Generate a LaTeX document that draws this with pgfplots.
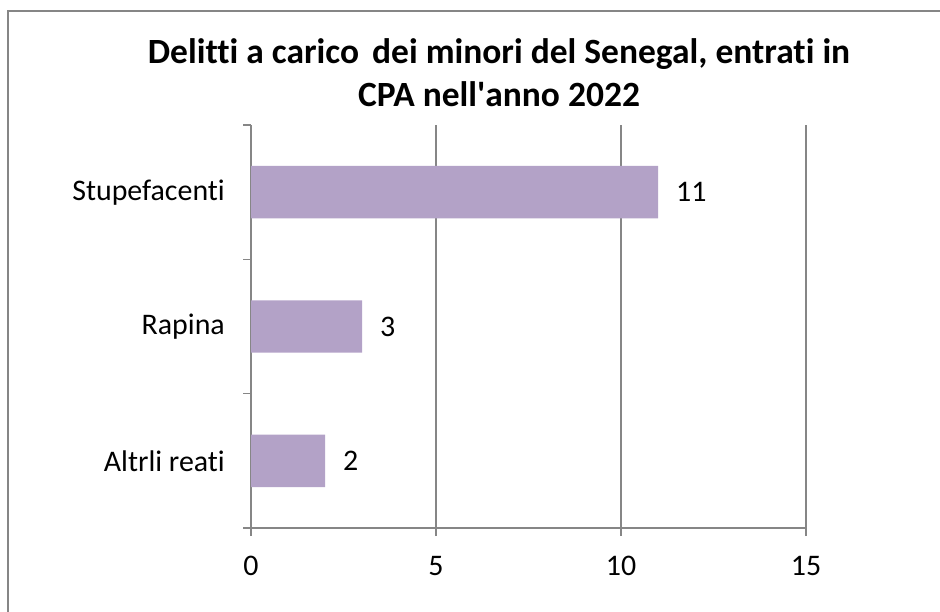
\documentclass[border=0pt]{standalone}
\usepackage{fontspec}
\setmainfont{Carlito}[Ligatures=CommonOff]
\usepackage{pgfplots}
\pgfplotsset{compat=1.18}
\definecolor{barc}{RGB}{179,162,199}
\definecolor{gridc}{RGB}{134,134,134}
\begin{document}
\begin{tikzpicture}
\useasboundingbox (0bp,0bp) rectangle (940bp,612bp);
\draw[gridc, line width=1.8bp] (8bp,0bp) -- (8bp,601bp) -- (940bp,601bp);
\node[font=\fontsize{35.6}{43}\selectfont\bfseries, align=center] at (499bp,539bp) {Delitti a carico\hspace{5bp} dei minori del Senegal, entrati in\\CPA nell\textquotesingle anno 2022};
\begin{axis}[
  at={(251bp,84bp)}, anchor=south west,
  xbar, scale only axis, width=555bp, height=403bp,
  xmin=0, xmax=15, ymin=-0.5, ymax=2.5,
  axis lines=left,
  axis line style={-, gridc, line width=1.5bp},
  xtick={0,5,10,15},
  ytick={0,1,2},
  yticklabels={Altrli reati, Rapina, Stupefacenti},
  minor ytick={-0.5,0.5,1.5,2.5},
  xmajorgrids,
  grid style={gridc, line width=1.5bp},
  tick align=outside,
  major tick length=8bp,
  minor tick length=8bp,
  xtick style={gridc, line width=1.5bp},
  major y tick style={draw=none},
  minor y tick style={gridc, line width=1.5bp},
  tick label style={font=\fontsize{30}{30}\selectfont, text=black},
  yticklabel style={inner sep=0pt, xshift=-18bp},
  xticklabel style={inner sep=0pt, yshift=-20bp},
  /pgf/number format/assume math mode=true,
  clip=false,
]
\addplot[fill=barc, draw=none, bar width=0.39,
  nodes near coords,
  nodes near coords style={font=\fontsize{30}{30}\selectfont, text=black, anchor=west, inner sep=0pt, xshift=18bp}]
  coordinates {(2,0) (3,1) (11,2)};
\end{axis}
\end{tikzpicture}
\end{document}
